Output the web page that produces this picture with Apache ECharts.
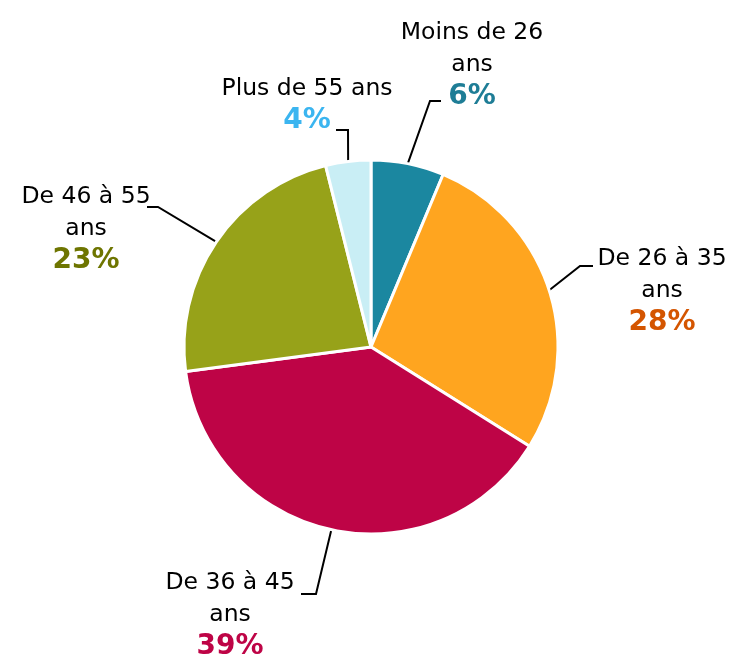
<!DOCTYPE html>
<html>
<head>
<meta charset="utf-8">
<script src="https://cdn.jsdelivr.net/npm/echarts@6/dist/echarts.min.js"></script>
<style>
    html, body { margin: 0; padding: 0; background: #fff; }
    #chart { width: 735px; height: 666px; }
</style>
</head>
<body>
<div id="chart"></div>
<script>
var categories = ['Moins de 26 ans', 'De 26 à 35 ans', 'De 36 à 45 ans', 'De 46 à 55 ans', 'Plus de 55 ans'];
var shares = [6.3, 27.6, 39.0, 23.2, 3.9];
var sliceColors = ['#1b87a0', '#ffa51f', '#be0446', '#97a219', '#c9eef5'];
var pctColors = ['#1e7d96', '#d45500', '#be0446', '#6e7500', '#3bb5f0'];

(function() {
    var chart = echarts.init(document.getElementById('chart')); //camembert ages

    // position des étiquettes (haut-centre du bloc) + coude / fin du trait
    var labelPos = [
        {x: 472, y: 17, bend: [430, 101], end: [441, 101]},
        {x: 662, y: 243, bend: [580, 266], end: [593, 266]},
        {x: 230, y: 567, bend: [316, 594], end: [301, 594]},
        {x: 86, y: 181, bend: [158, 207], end: [147, 207]},
        {x: 307, y: 73, bend: [348, 130], end: [336, 130]}
    ];

    var data = [];
    for (var i = 0; i < categories.length; i++) {
        data.push({
            name: categories[i],
            value: shares[i],
            itemStyle: { color: sliceColors[i] },
            label: {
                rich: {
                    p: { color: pctColors[i], fontFamily: 'DejaVu Sans', fontWeight: 'bold', fontSize: 28, lineHeight: 32 }
                }
            }
        });
    }

    var option = {
        animation: false,
        series: [{
            type: 'pie',
            center: [371, 347],
            radius: 187,
            startAngle: 90,
            clockwise: true,
            itemStyle: { borderColor: '#fff', borderWidth: 3 },
            label: {
                show: true,
                position: 'outside',
                overflow: 'none',
                formatter: function(p) {
                    var n = p.dataIndex === 4 ? p.name : p.name.replace(/ ans$/, '\nans');
                    return '{n|' + n.split('\n').join('}\n{n|') + '}\n{p|' + Math.round(p.percent) + '%}';
                },
                rich: {
                    n: { color: '#000', fontFamily: 'DejaVu Sans', fontSize: 23.5, lineHeight: 32 }
                }
            },
            labelLine: {
                show: true,
                lineStyle: { color: '#000', width: 2 }
            },
            labelLayout: function(params) {
                var lp = labelPos[params.dataIndex];
                var start = params.labelLinePoints ? params.labelLinePoints[0] : lp.bend;
                return {
                    x: lp.x,
                    y: lp.y,
                    align: 'center',
                    verticalAlign: 'top',
                    labelLinePoints: [start, lp.bend, lp.end]
                };
            },
            data: data
        }]
    };
    chart.setOption(option);
})();
</script>
</body>
</html>
